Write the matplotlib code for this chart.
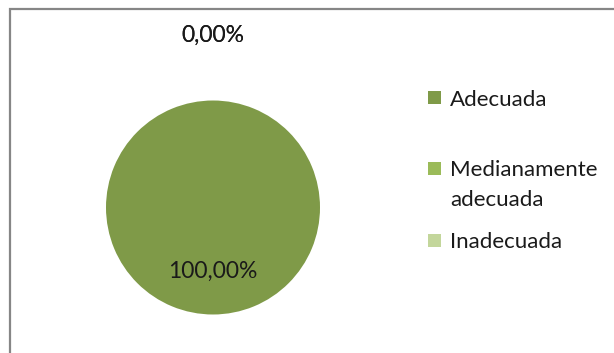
import numpy as np
import matplotlib
matplotlib.use("Agg")
import matplotlib.pyplot as plt
from matplotlib.patches import Rectangle

categories = ["Adecuada", "Medianamente\nadecuada", "Inadecuada"]
values = [100.0, 0.0, 0.0]
value_labels = ["100,00%", "0,00%", "0,00%"]
colors = ["#7F9A48", "#9BBB59", "#C3D69B"]

W, H = 614, 353
fig = plt.figure(figsize=(W / 100, H / 100), dpi=100)
fig.patch.set_facecolor("white")

# chart frame (left and top edges visible)
fig.patches.append(Rectangle((9.5 / W, -0.1), 1.2, 1.1 - 9 / H,
                             transform=fig.transFigure, fill=False,
                             edgecolor="#868686", linewidth=1.6))

# pie axes
cx, cy, r = 213, 207.5, 107
ax = fig.add_axes([(cx - r) / W, (H - cy - r) / H, 2 * r / W, 2 * r / H])
wedges, _ = ax.pie(values, colors=colors, startangle=90, counterclock=False,
                   radius=1.0, wedgeprops=dict(linewidth=0))
ax.set_xlim(-1, 1)
ax.set_ylim(-1, 1)
ax.set_aspect("equal")
ax.axis("off")

font = "Lato"
txt_color = "#1a1a1a"
for w, v, lab in zip(wedges, values, value_labels):
    mid = np.deg2rad((w.theta1 + w.theta2) / 2)
    dist = 0.6 if v > 0 else 1.61
    ax.text(dist * np.cos(mid), dist * np.sin(mid), lab, ha="center", va="center",
            fontsize=16.5, family=font, color=txt_color, clip_on=False)

# legend
leg_x_box = 428
box = 13
leg_x_txt = 450
rows = [98, 168, 240]
line_step = 30
for cat, col, y in zip(categories, colors, rows):
    fig.patches.append(Rectangle((leg_x_box / W, (H - y - box / 2) / H), box / W, box / H,
                                 transform=fig.transFigure, facecolor=col,
                                 edgecolor="none"))
    for i, line in enumerate(cat.split("\n")):
        fig.text(leg_x_txt / W, (H - y - i * line_step) / H, line, ha="left",
                 va="center_baseline", fontsize=16, family=font, color=txt_color)

fig.savefig("out.png", dpi=100)
